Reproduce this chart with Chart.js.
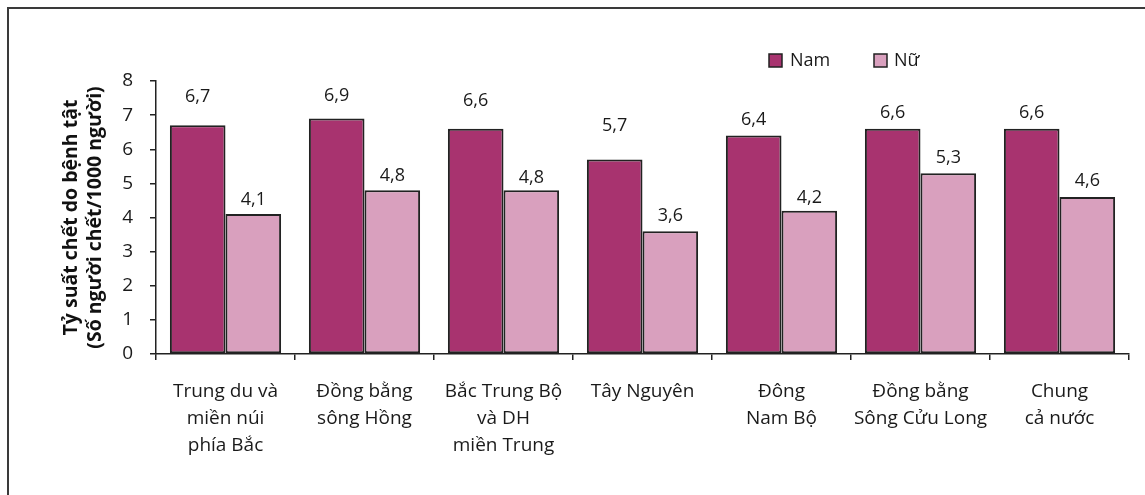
<!DOCTYPE html>
<html lang="vi">
<head>
<meta charset="utf-8">
<title>Tỷ suất chết do bệnh tật</title>
<script src="https://cdn.jsdelivr.net/npm/chart.js@4.4.1/dist/chart.umd.min.js"></script>
<style>
    html, body { margin: 0; padding: 0; background: #fff; }
    #wrap { width: 1145px; height: 495px; position: relative; }
</style>
</head>
<body>
<div id="wrap"><canvas id="deathChart" width="1145" height="495"></canvas></div>
<script>
const regions = [
    ["Trung du và", "miền núi", "phía Bắc"],
    ["Đồng bằng", "sông Hồng"],
    ["Bắc Trung Bộ", "và DH", "miền Trung"],
    ["Tây Nguyên"],
    ["Đông", "Nam Bộ"],
    ["Đồng bằng", "Sông Cửu Long"],
    ["Chung", "cả nước"]
];
const maleRates = [6.7, 6.9, 6.6, 5.7, 6.4, 6.6, 6.6];
const femaleRates = [4.1, 4.8, 4.8, 3.6, 4.2, 5.3, 4.6];
const yTicks = [0, 1, 2, 3, 4, 5, 6, 7, 8];

// how far each value label sits above its bar
const maleLabelLift = [28, 23, 28, 34, 16, 16, 16];
const femaleLabelLift = [14, 14, 12, 15, 13, 15, 16];

const FONT = "'Open Sans', 'Noto Sans', sans-serif";
const MALE_COLOR = "#a8336f";
const FEMALE_COLOR = "#d9a0be";

function formatVi(v) {
    return v.toFixed(1).replace(".", ",");
}

// thin frame around the figure (only top and left edges are visible)
const framePlugin = {
    id: "frame",
    beforeDraw(chart) {
        const ctx = chart.ctx;
        ctx.save();
        ctx.fillStyle = "#fff";
        ctx.fillRect(0, 0, chart.width, chart.height);
        ctx.strokeStyle = "#3a3a3a";
        ctx.lineWidth = 2;
        ctx.strokeRect(8, 8, chart.width + 20, chart.height + 20);
        ctx.restore();
    }
};

const valueLabels = {
    id: "valueLabels",
    afterDatasetsDraw(chart) {
        const ctx = chart.ctx;
        const lifts = [maleLabelLift, femaleLabelLift];
        ctx.save();
        ctx.font = "18px " + FONT;
        ctx.fillStyle = "#1a1a1a";
        ctx.textAlign = "center";
        ctx.textBaseline = "middle";
        chart.data.datasets.forEach((ds, i) => {
            chart.getDatasetMeta(i).data.forEach((bar, j) => {
                ctx.fillText(formatVi(ds.data[j]), bar.x, bar.y - lifts[i][j]);
            });
        });
        ctx.restore();
    }
};

const sideLegend = {
    id: "sideLegend",
    afterDraw(chart) {
        const ctx = chart.ctx;
        const spots = [{ x: 769, text: 790 }, { x: 874, text: 894 }];
        ctx.save();
        ctx.font = "18px " + FONT;
        ctx.textBaseline = "middle";
        chart.data.datasets.forEach((ds, i) => {
            const s = spots[i];
            ctx.fillStyle = ds.backgroundColor;
            ctx.fillRect(s.x, 54, 13, 13);
            ctx.strokeStyle = "#222";
            ctx.lineWidth = 1.5;
            ctx.strokeRect(s.x, 54, 13, 13);
            ctx.fillStyle = "#1a1a1a";
            ctx.fillText(ds.label, s.text, 61);
        });
        ctx.restore();
    }
};

const ctx = document.getElementById("deathChart").getContext("2d");

new Chart(ctx, {
    type: "bar",
    data: {
        labels: regions,
        datasets: [
            {
                label: "Nam",
                data: maleRates,
                backgroundColor: MALE_COLOR,
                borderColor: "#222",
                borderWidth: 2,
                borderSkipped: false
            },
            {
                label: "Nữ",
                data: femaleRates,
                backgroundColor: FEMALE_COLOR,
                borderColor: "#222",
                borderWidth: 2,
                borderSkipped: false
            }
        ]
    },
    options: {
        responsive: false,
        animation: false,
        devicePixelRatio: 1,
        layout: { padding: { left: 0, right: 16, top: 81, bottom: 0 } },
        plugins: {
            legend: { display: false },
            tooltip: { enabled: false }
        },
        datasets: {
            bar: { categoryPercentage: 0.8, barPercentage: 1.0 }
        },
        scales: {
            x: {
                afterFit(scale) { scale.height = 141; },
                grid: {
                    offset: true,
                    drawOnChartArea: false,
                    drawTicks: true,
                    tickLength: 6,
                    color: "#222",
                    lineWidth: 1.5
                },
                border: { color: "#222", width: 1.5 },
                ticks: {
                    autoSkip: false,
                    maxRotation: 0,
                    padding: 18,
                    color: "#1a1a1a",
                    font: { family: FONT, size: 19, lineHeight: 1.42 }
                }
            },
            y: {
                min: 0,
                max: 8,
                afterFit(scale) { scale.width = 156; },
                afterBuildTicks(scale) { scale.ticks = yTicks.map(v => ({ value: v })); },
                grid: {
                    drawOnChartArea: false,
                    drawTicks: true,
                    tickLength: 6,
                    color: "#222",
                    lineWidth: 1.5
                },
                border: { color: "#222", width: 1.5 },
                ticks: {
                    padding: 17,
                    color: "#1a1a1a",
                    font: { family: FONT, size: 19 }
                },
                title: {
                    display: true,
                    text: ["Tỷ suất chết do bệnh tật", "(Số người chết/1000 người)"],
                    color: "#111",
                    font: { family: FONT, size: 19.5, weight: "bold", lineHeight: 1.23 },
                    padding: { top: 59, bottom: 0 }
                }
            }
        }
    },
    plugins: [framePlugin, valueLabels, sideLegend]
});
</script>
</body>
</html>
